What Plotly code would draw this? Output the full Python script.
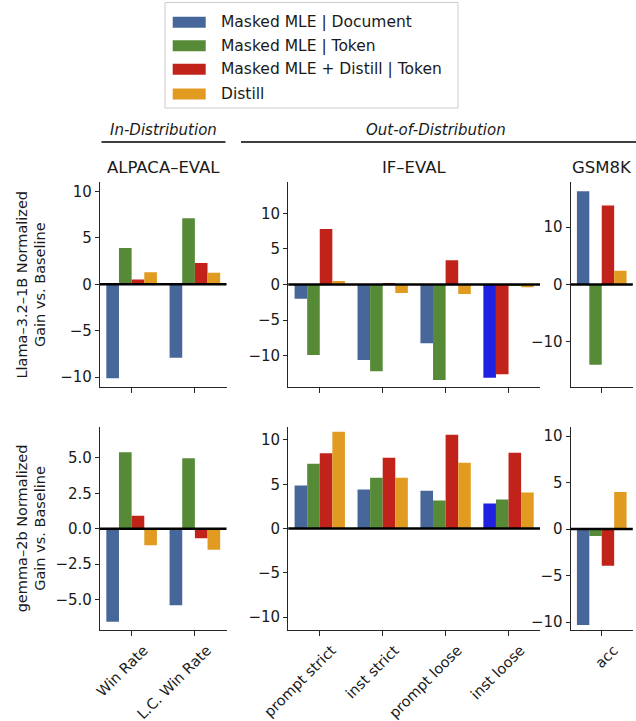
import plotly.graph_objects as go

# ---------------- data ----------------
series_names = [
    "Masked MLE | Document",
    "Masked MLE | Token",
    "Masked MLE + Distill | Token",
    "Distill",
]
alpaca_cats = ["Win Rate", "L.C. Win Rate"]
ifeval_cats = ["prompt strict", "inst strict", "prompt loose", "inst loose"]
gsm_cats = ["acc"]

# Llama-3.2-1B
llama_alpaca_doc = [-10.1, -7.9]
llama_alpaca_tok = [3.9, 7.1]
llama_alpaca_mix = [0.5, 2.3]
llama_alpaca_dist = [1.3, 1.25]

llama_ifeval_doc = [-2.0, -10.6, -8.25, -13.1]
llama_ifeval_tok = [-9.9, -12.2, -13.4, -0.2]
llama_ifeval_mix = [7.8, 0.15, 3.4, -12.6]
llama_ifeval_dist = [0.5, -1.2, -1.35, -0.4]

llama_gsm_doc = [16.3]
llama_gsm_tok = [-14.0]
llama_gsm_mix = [13.8]
llama_gsm_dist = [2.4]

# gemma-2b
gemma_alpaca_doc = [-6.57, -5.4]
gemma_alpaca_tok = [5.4, 4.98]
gemma_alpaca_mix = [0.92, -0.68]
gemma_alpaca_dist = [-1.17, -1.48]

gemma_ifeval_doc = [4.85, 4.4, 4.28, 2.82]
gemma_ifeval_tok = [7.33, 5.75, 3.16, 3.27]
gemma_ifeval_mix = [8.5, 8.0, 10.6, 8.57]
gemma_ifeval_dist = [10.94, 5.75, 7.44, 4.06]

gemma_gsm_doc = [-10.3]
gemma_gsm_tok = [-0.75]
gemma_gsm_mix = [-3.94]
gemma_gsm_dist = [3.97]

# ---------------- styles ----------------
COLORS = ["#47679a", "#578a37", "#c1231b", "#e19b21"]
HIGHLIGHT = "#2020e0"
FONT = "DejaVu Sans"
W, H = 636, 721
AXC = "#262626"


def px(x):
    return x / W


def py(y):
    return 1 - y / H


panels = [
    # (row, col, cats, [series...], yrange, dtick, fmt)
    (1, 1, alpaca_cats, [llama_alpaca_doc, llama_alpaca_tok, llama_alpaca_mix, llama_alpaca_dist], [-11.05, 11.0], 5, None),
    (1, 2, ifeval_cats, [llama_ifeval_doc, llama_ifeval_tok, llama_ifeval_mix, llama_ifeval_dist], [-14.4, 14.4], 5, None),
    (1, 3, gsm_cats, [llama_gsm_doc, llama_gsm_tok, llama_gsm_mix, llama_gsm_dist], [-17.9, 17.9], 10, None),
    (2, 1, alpaca_cats, [gemma_alpaca_doc, gemma_alpaca_tok, gemma_alpaca_mix, gemma_alpaca_dist], [-7.15, 7.2], 2.5, ".1f"),
    (2, 2, ifeval_cats, [gemma_ifeval_doc, gemma_ifeval_tok, gemma_ifeval_mix, gemma_ifeval_dist], [-11.45, 11.5], 5, None),
    (2, 3, gsm_cats, [gemma_gsm_doc, gemma_gsm_tok, gemma_gsm_mix, gemma_gsm_dist], [-10.85, 11.0], 5, None),
]

col_dom = {1: (100, 226.5), 2: (288.3, 540), 3: (570.7, 632.8)}
row_dom = {1: (182, 387), 2: (426.7, 630)}

fig = go.Figure()
layout = {}
shapes = []
annotations = []

for i, (r, c, cats, vals, yr, dt, fmt) in enumerate(panels, start=1):
    xa = "x" if i == 1 else f"x{i}"
    ya = "y" if i == 1 else f"y{i}"
    # per-bar values / colours (the IF-EVAL "inst loose" group is drawn with
    # a bright-blue Document bar, and in the Llama row its Token and
    # Distill|Token bars sit in swapped slots)
    slot_vals = [list(v) for v in vals]
    slot_cols = [[COLORS[k]] * len(cats) for k in range(4)]
    if c == 2:
        j = cats.index("inst loose")
        slot_cols[0][j] = HIGHLIGHT
        if r == 1:
            slot_vals[1][j], slot_vals[2][j] = slot_vals[2][j], slot_vals[1][j]
            slot_cols[1][j], slot_cols[2][j] = slot_cols[2][j], slot_cols[1][j]
    for k in range(4):
        fig.add_trace(go.Bar(
            x=cats, y=slot_vals[k], name=series_names[k],
            marker=dict(color=slot_cols[k], line=dict(width=0)),
            xaxis=xa, yaxis=ya, offsetgroup=str(k), showlegend=False,
        ))
    xd = col_dom[c]
    yd = row_dom[r]
    layout[f"xaxis{'' if i == 1 else i}"] = dict(
        domain=[px(xd[0]), px(xd[1])], anchor=ya, type="category",
        range=[-0.5, len(cats) - 0.5], automargin=False,
        showline=True, linecolor=AXC, linewidth=1.3, mirror=False,
        ticks="outside", ticklen=5, tickwidth=1.3, tickcolor=AXC,
        showgrid=False, zeroline=False,
        showticklabels=(r == 2), tickangle=-45, ticklabelshift=12,
        tickfont=dict(family=FONT, size=14.5, color="#1a1a1a"),
    )
    yax = dict(
        domain=[py(yd[1]), py(yd[0])], anchor=xa, range=yr, automargin=False,
        showline=True, linecolor=AXC, linewidth=1.3, mirror=False,
        ticks="outside", ticklen=4, tickwidth=1.3, tickcolor=AXC,
        showgrid=False, zeroline=False, dtick=dt, tick0=0,
        tickfont=dict(family=FONT, size=15, color="#1a1a1a"),
    )
    if fmt:
        yax["tickformat"] = fmt
    layout[f"yaxis{'' if i == 1 else i}"] = yax
    # zero reference line on top of the bars
    shapes.append(dict(
        type="line", xref=f"{xa} domain", yref=ya, x0=0, x1=1, y0=0, y1=0,
        line=dict(color="black", width=2.5), layer="above",
    ))

# panel titles
for c, title in [(1, "ALPACA–EVAL"), (2, "IF–EVAL"), (3, "GSM8K")]:
    annotations.append(dict(
        text=title, xref="paper", yref="paper",
        x=px((col_dom[c][0] + col_dom[c][1]) / 2), y=py(167),
        xanchor="center", yanchor="middle", showarrow=False,
        font=dict(family=FONT, size=16.5, color="#1a1a1a"),
    ))

# group headers
annotations.append(dict(
    text="<i>In-Distribution</i>", xref="paper", yref="paper",
    x=px(163), y=py(130), xanchor="center", yanchor="middle", showarrow=False,
    font=dict(family=FONT, size=15, color="#1a1a1a"),
))
annotations.append(dict(
    text="<i>Out-of-Distribution</i>", xref="paper", yref="paper",
    x=px(436), y=py(130), xanchor="center", yanchor="middle", showarrow=False,
    font=dict(family=FONT, size=15, color="#1a1a1a"),
))
shapes.append(dict(type="line", xref="paper", yref="paper",
                   x0=px(101.5), x1=px(225.5), y0=py(142), y1=py(142),
                   line=dict(color="black", width=1.3)))
shapes.append(dict(type="line", xref="paper", yref="paper",
                   x0=px(241), x1=px(636), y0=py(142), y1=py(142),
                   line=dict(color="black", width=1.3)))

# y-axis titles
for r, label in [(1, "Llama–3.2–1B Normalized<br>Gain vs. Baseline"),
                 (2, "gemma–2b Normalized<br>Gain vs. Baseline")]:
    annotations.append(dict(
        text=label, xref="paper", yref="paper",
        x=px(31), y=py((row_dom[r][0] + row_dom[r][1]) / 2),
        xanchor="center", yanchor="middle", textangle=-90, showarrow=False,
        font=dict(family=FONT, size=14.5, color="#1a1a1a"),
    ))

# legend (drawn manually to get wide swatches)
shapes.append(dict(type="rect", xref="paper", yref="paper",
                   x0=px(165), x1=px(458), y0=py(2.5), y1=py(108),
                   line=dict(color="#cccccc", width=1), fillcolor="white",
                   layer="below"))
leg_y = [22.3, 45.7, 69.3, 94]
for k, name in enumerate(series_names):
    shapes.append(dict(type="rect", xref="paper", yref="paper",
                       x0=px(172.7), x1=px(205.7),
                       y0=py(leg_y[k] - 5.5), y1=py(leg_y[k] + 5.5),
                       line=dict(width=0), fillcolor=COLORS[k]))
    annotations.append(dict(
        text=name, xref="paper", yref="paper", x=px(219), y=py(leg_y[k]),
        xanchor="left", yanchor="middle", showarrow=False,
        font=dict(family=FONT, size=15.5, color="#1a1a1a"),
    ))

fig.update_layout(
    **layout,
    shapes=shapes, annotations=annotations,
    barmode="group", bargap=0.2, bargroupgap=0,
    width=W, height=H, margin=dict(l=0, r=0, t=0, b=0, autoexpand=False),
    paper_bgcolor="white", plot_bgcolor="white",
    font=dict(family=FONT, color="#1a1a1a"),
    showlegend=False,
)

fig.write_html(
    "out.html",
    config={"displayModeBar": False},
    post_script="document.body.style.margin='0';document.body.style.overflow='hidden';",
)
